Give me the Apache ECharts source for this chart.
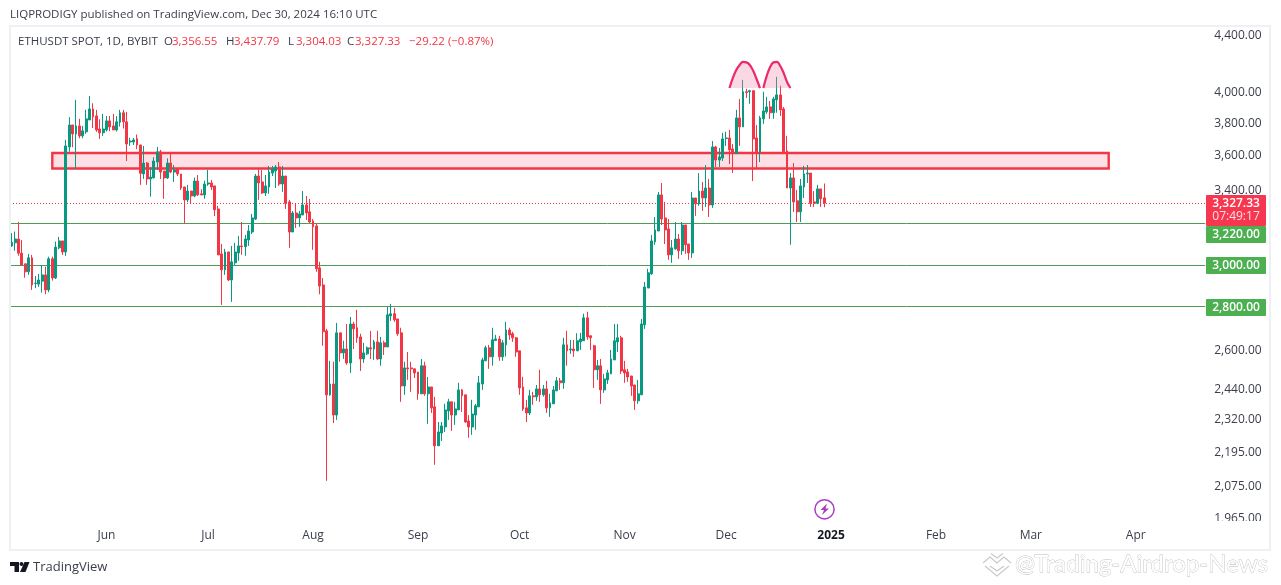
<!DOCTYPE html>
<html><head><meta charset="utf-8">
<style>html,body{margin:0;padding:0;background:#fff}#c{width:1281px;height:585px}</style>
<script src="https://cdn.jsdelivr.net/npm/echarts@6/dist/echarts.min.js"></script>
</head><body><div id="c"></div>
<script>
const opens=[3098,3114,3134,3061,3007,2967,3037,2910,2907,2921,
2952,2879,3032,2937,3088,3124,3067,3654,3790,3734,
3784,3722,3747,3822,3893,3848,3765,3741,3759,3816,
3784,3759,3808,3868,3810,3684,3684,3705,3666,3493,
3557,3464,3470,3563,3624,3510,3470,3557,3504,3522,
3493,3418,3345,3395,3367,3452,3379,3373,3435,3441,
3424,3295,3057,2977,3067,2927,3012,3062,3098,3094,
3129,3171,3240,3481,3447,3384,3418,3498,3510,3534,
3435,3481,3334,3171,3273,3246,3262,3317,3279,3230,
3203,2987,2903,2689,2417,2461,2337,2680,2592,2609,
2549,2720,2703,2662,2566,2588,2614,2609,2640,2566,
2636,2618,2757,2767,2743,2680,2453,2528,2528,2524,
2511,2421,2537,2421,2449,2369,2220,2268,2291,2353,
2389,2337,2357,2437,2417,2314,2291,2337,2369,2461,
2558,2614,2575,2646,2653,2575,2627,2693,2676,2658,
2601,2449,2365,2345,2413,2409,2441,2417,2441,2365,
2381,2433,2474,2466,2627,2605,2609,2601,2640,2645,
2748,2667,2623,2520,2537,2437,2478,2503,2562,2640,
2658,2520,2511,2494,2457,2393,2417,2716,2888,2957,
3119,3176,3373,3246,3187,3052,3083,3134,3073,3208,
3108,3062,3356,3323,3395,3356,3412,3317,3654,3575,
3587,3705,3709,3642,3615,3835,3778,4006,4006,4013,
3709,3624,3829,3874,3906,3868,3952,3985,3893,3630,
3412,3470,3340,3279,3418,3493,3498,3334,3326,3407,3356.55];
const closes=[3117,3134,3061,3001,2967,3037,2903,2912,2927,2952,
2879,3032,2937,3092,3124,3067,3660,3790,3734,3784,
3722,3753,3829,3893,3842,3759,3741,3765,3816,3778,
3759,3810,3868,3810,3672,3690,3697,3666,3497,3557,
3464,3475,3569,3624,3504,3470,3557,3504,3516,3493,
3412,3345,3395,3367,3452,3373,3373,3435,3441,3418,
3290,3052,2977,3067,2927,3017,3067,3098,3094,3134,
3176,3246,3481,3441,3384,3424,3504,3522,3534,3435,
3481,3326,3171,3273,3246,3268,3317,3273,3224,3198,
2982,2898,2685,2417,2461,2337,2680,2592,2609,2549,
2720,2698,2658,2566,2592,2614,2609,2640,2566,2636,
2618,2762,2767,2739,2676,2453,2528,2524,2524,2507,
2421,2537,2421,2449,2365,2220,2272,2295,2357,2389,
2337,2361,2437,2413,2310,2291,2341,2373,2466,2562,
2614,2575,2649,2653,2575,2636,2693,2671,2658,2596,
2445,2361,2345,2413,2409,2441,2417,2441,2365,2385,
2437,2474,2466,2627,2601,2609,2601,2645,2653,2748,
2662,2658,2520,2537,2437,2482,2507,2566,2645,2658,
2515,2507,2490,2453,2393,2421,2720,2893,2962,3124,
3182,3373,3240,3182,3052,3088,3134,3073,3208,3104,
3062,3356,3323,3395,3356,3412,3317,3654,3575,3593,
3703,3709,3636,3615,3835,3778,4006,4001,4013,3703,
3624,3835,3880,3906,3868,3958,3985,3887,3624,3412,
3470,3334,3279,3424,3493,3498,3326,3326,3407,3351,3327.33];
const lows=[3094,3073,3048,3001,2938,2952,2879,2887,2894,2866,
2858,2868,2924,2932,3081,3052,3047,3625,3652,3522,
3707,3707,3734,3822,3771,3747,3703,3722,3749,3751,
3759,3749,3780,3768,3569,3660,3666,3640,3430,3464,
3430,3363,3467,3516,3464,3351,3464,3497,3447,3481,
3401,3217,3332,3326,3360,3367,3373,3351,3424,3401,
3256,3052,2808,2952,2922,2822,3002,3022,3052,3047,
3098,3160,3235,3345,3379,3367,3379,3481,3412,3424,
3390,3295,3088,3171,3192,3198,3262,3235,3217,3078,
2967,2858,2623,2094,2413,2306,2318,2554,2566,2541,
2507,2609,2636,2515,2549,2583,2566,2562,2562,2537,
2583,2618,2734,2730,2667,2389,2417,2478,2429,2486,
2397,2421,2413,2303,2345,2151,2220,2238,2272,2318,
2276,2299,2357,2349,2307,2250,2261,2280,2369,2437,
2558,2524,2537,2645,2558,2558,2576,2649,2640,2575,
2417,2353,2310,2337,2377,2393,2389,2410,2345,2330,
2381,2433,2437,2441,2537,2588,2575,2601,2605,2645,
2649,2605,2445,2478,2381,2425,2461,2503,2562,2596,
2503,2466,2470,2413,2357,2381,2417,2698,2888,2952,
3104,3176,3208,3108,3027,3012,3078,3032,3052,3057,
3027,3037,3257,3312,3284,3306,3251,3301,3534,3534,
3569,3660,3551,3498,3615,3660,3778,3965,3926,3452,
3522,3563,3797,3861,3829,3829,3868,3848,3624,3412,
3104,3279,3224,3224,3356,3441,3306,3306,3323,3306,3304.03];
const highs=[3165,3173,3225,3129,3007,3057,3052,2947,2957,2998,
2993,3043,3043,3120,3145,3124,3697,3840,3790,3952,
3829,3784,3887,3978,3930,3887,3826,3861,3848,3848,
3861,3846,3887,3887,3874,3710,3709,3730,3666,3660,
3563,3532,3592,3654,3636,3510,3585,3612,3545,3530,
3493,3418,3430,3395,3472,3487,3405,3454,3516,3458,
3424,3312,3108,3083,3067,3098,3114,3150,3224,3155,
3208,3268,3493,3522,3516,3487,3540,3540,3545,3563,
3540,3481,3345,3284,3326,3284,3395,3367,3351,3240,
3217,3017,2937,2698,2558,2554,2725,2680,2645,2720,
2752,2730,2785,2676,2636,2620,2689,2649,2689,2662,
2645,2798,2813,2794,2743,2703,2554,2596,2554,2524,
2511,2566,2554,2490,2449,2409,2310,2310,2381,2401,
2389,2389,2466,2441,2417,2337,2397,2381,2494,2571,
2623,2627,2703,2671,2667,2649,2730,2703,2685,2662,
2601,2491,2397,2437,2429,2457,2520,2457,2474,2421,
2453,2490,2486,2658,2689,2649,2649,2678,2680,2767,
2776,2667,2627,2562,2566,2503,2520,2605,2720,2720,
2667,2558,2524,2494,2457,2478,2743,2917,2982,3155,
3251,3390,3441,3334,3240,3129,3224,3160,3224,3208,
3108,3390,3356,3498,3447,3545,3464,3690,3660,3648,
3741,3747,3759,3672,3887,3958,4086,4026,4019,4013,
3790,3848,4006,3972,3945,3972,4107,4046,3906,3722,
3498,3557,3401,3464,3540,3545,3498,3395,3430,3407,3437.79];

const priceTicks=[1965,2075,2195,2320,2440,2600,2800,3000,3400,3600,3800,4000,4400];
const monthDates=['2024-06-01','2024-07-01','2024-08-01','2024-09-01','2024-10-01','2024-11-01','2024-12-01','2025-01-01','2025-02-01','2025-03-01','2025-04-01'];
const monthNames=['Jun','Jul','Aug','Sep','Oct','Nov','Dec','2025','Feb','Mar','Apr'];
const levels=[3220,3000,2800];
const lastClose=3327.33;
const zoneLow=3525, zoneHigh=3617, zoneStart='2024-05-16', zoneEnd='2025-03-24';
const arc1Idx=[212,213,214,215,216,217,218,219,220,221];
const arc1Val=[4031,4099,4154,4189,4210,4207,4189,4148,4092,4031];
const arc2Idx=[222,223,224,225,226,227,228,229,230];
const arc2Val=[4031,4113,4175,4207,4210,4182,4133,4072,4031];

const categories=[];
{let t=Date.UTC(2024,4,4);for(let i=0;i<353;i++){categories.push(new Date(t).toISOString().slice(0,10));t+=86400000;}}
const ohlc=opens.map((o,i)=>[o,closes[i],lows[i],highs[i]]);

const UP='#089981',DOWN='#f23645',FONT='"Open Sans","Noto Sans",sans-serif';
const fmt=v=>v.toLocaleString('en-US',{minimumFractionDigits:2,maximumFractionDigits:2});
const arc=(idx,val)=>({type:'line',data:idx.map((x,i)=>[x,val[i]]),smooth:0.4,symbol:'none',silent:true,z:6,
  lineStyle:{color:'#ea2a6b',width:2.2},
  areaStyle:{color:'rgba(240,130,165,0.3)',origin:4031,opacity:1}});
const txt=(x,y,text,fill,size,extra)=>({type:'text',z:50,style:Object.assign({x,y,text,fill,font:(size||12)+'px '+FONT,textVerticalAlign:'middle'},extra||{})});
const tag=(y,h)=>({type:'rect',z:40,shape:{x:1206,y,width:60,height:h,r:1},style:{fill:'#4caf50'}});

const chart=echarts.init(document.getElementById('c'),null,{renderer:'canvas'});
chart.setOption({
 animation:false,
 grid:{left:10,right:75.8,top:26,bottom:62,containLabel:false},
 xAxis:{type:'category',data:categories,boundaryGap:true,axisLine:{show:false},axisTick:{show:false},splitLine:{show:false},
  axisLabel:{margin:7,interval:(i,v)=>monthDates.includes(v),
   formatter:v=>{const n=monthNames[monthDates.indexOf(v)];return n==='2025'?'{b|'+n+'}':n;},
   color:'#3a3e4a',fontSize:12,fontFamily:FONT,rich:{b:{fontWeight:'bold',color:'#131722',fontSize:12,fontFamily:FONT}}}},
 yAxis:{type:'log',position:'right',min:1952,max:4470,scale:false,axisLine:{show:false},axisTick:{show:false},splitLine:{show:false},
  axisLabel:{customValues:priceTicks,margin:9,color:'#3a3e4a',fontSize:12,fontFamily:FONT,formatter:v=>fmt(v),showMinLabel:true,showMaxLabel:true,hideOverlap:false}},
 series:[
  {type:'candlestick',data:ohlc,barWidth:2.4,z:3,silent:true,
   itemStyle:{color:UP,color0:DOWN,borderColor:UP,borderColor0:DOWN,borderWidth:1},
   markArea:{silent:true,z:1,itemStyle:{color:'#fde0e5',borderColor:DOWN,borderWidth:2.4},
     data:[[{xAxis:zoneStart,yAxis:zoneHigh},{xAxis:zoneEnd,yAxis:zoneLow}]]},
   markLine:{silent:true,z:1,symbol:'none',animation:false,label:{show:false},
     data:levels.map(v=>({yAxis:v,lineStyle:{color:'#4f9a55',width:1,type:'solid'}})).concat([{yAxis:lastClose,lineStyle:{color:DOWN,width:1,type:[1,2]}}])}},
  arc(arc1Idx,arc1Val),
  arc(arc2Idx,arc2Val)
 ],
 graphic:[
  {type:'rect',z:30,shape:{x:10,y:26,width:1260,height:524},style:{fill:'none',stroke:'#eff0f6',lineWidth:2}},
  {type:'rect',z:35,shape:{x:1206,y:521,width:62,height:8},style:{fill:'#fff'}},
  txt(10,15,'LIQPRODIGY published on TradingView.com, Dec 30, 2024 16:10 UTC','#3a3e4a',11.5),
  txt(18,42,'ETHUSDT SPOT, 1D, BYBIT','#3a3e4a',11.5),
  txt(164,42,'O','#3a3e4a',11.5),txt(172,42,'3,356.55',DOWN,11.5),
  txt(226,42,'H','#3a3e4a',11.5),txt(234,42,'3,437.79',DOWN,11.5),
  txt(288,42,'L','#3a3e4a',11.5),txt(296,42,'3,304.03',DOWN,11.5),
  txt(347,42,'C','#3a3e4a',11.5),txt(355,42,'3,327.33',DOWN,11.5),
  txt(409,42,'\u221229.22 (\u22120.87%)',DOWN,11.5),
  {type:'rect',z:41,shape:{x:1206,y:195,width:60,height:31,r:1},style:{fill:'#f7374f'}},
  txt(1236,203.5,'3,327.33','#fff',12,{textAlign:'center',font:'600 12px '+FONT}),
  txt(1236,216.5,'07:49:17','rgba(255,255,255,0.85)',12,{textAlign:'center'}),
  tag(226,17),tag(257,17),tag(299,17),
  txt(1236,234.5,'3,220.00','#fff',12,{textAlign:'center',font:'600 12px '+FONT}),
  txt(1236,265.5,'3,000.00','#fff',12,{textAlign:'center',font:'600 12px '+FONT}),
  txt(1236,307.5,'2,800.00','#fff',12,{textAlign:'center',font:'600 12px '+FONT}),
  {type:'circle',z:20,shape:{cx:824.5,cy:509.3,r:9.6},style:{fill:'#fff',stroke:'#a83cc0',lineWidth:1.5}},
  {type:'polygon',z:21,shape:{points:[[827,503.5],[820.5,510],[824,510],[822,515],[829,508.5],[825.5,508.5]]},style:{fill:'#a83cc0'}},
  {type:'polygon',z:20,shape:{points:[[10,562],[19,562],[19,572],[14.5,572],[14.5,566],[10,566]]},style:{fill:'#131722'}},
  {type:'circle',z:20,shape:{cx:21.5,cy:564,r:2},style:{fill:'#131722'}},
  {type:'polygon',z:20,shape:{points:[[24.5,562],[29.5,562],[25.5,572],[20,572]]},style:{fill:'#131722'}},
  txt(33,567.5,'TradingView','#3a3e4a',13),
  {type:'polyline',z:20,shape:{points:[[983,563],[990,557],[997,563],[1004,557],[1011,563]]},style:{fill:'none',stroke:'#c9c9c9',lineWidth:1.2}},
  {type:'polyline',z:20,shape:{points:[[991,553.5],[997,558],[1003,553.5]]},style:{fill:'none',stroke:'#c9c9c9',lineWidth:1.2}},
  {type:'polyline',z:20,shape:{points:[[985,566],[997,576],[1009,566]]},style:{fill:'none',stroke:'#c9c9c9',lineWidth:1.2}},
  {type:'polyline',z:20,shape:{points:[[990,566],[997,571],[1004,566]]},style:{fill:'none',stroke:'#c9c9c9',lineWidth:1.2}},
  txt(1015,564,'@Trading-Airdrop-News','#fff',24,{stroke:'#bdbdbd',lineWidth:0.8,font:'24px Lato,'+FONT})
 ]
});
</script></body></html>
